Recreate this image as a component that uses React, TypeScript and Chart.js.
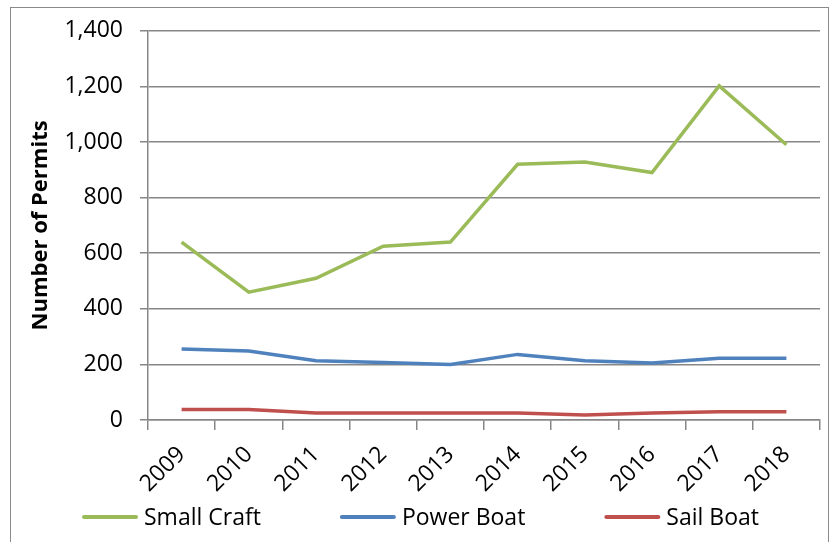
import React, { useEffect, useRef } from "react";
import { Chart, registerables } from "chart.js";

Chart.register(...registerables);

const categories = ["2009", "2010", "2011", "2012", "2013", "2014", "2015", "2016", "2017", "2018"];
const smallCraft = [640, 460, 510, 625, 640, 920, 928, 890, 1202, 990];
const powerBoat = [255, 248, 213, 207, 200, 236, 213, 205, 222, 222];
const sailBoat = [38, 38, 25, 25, 25, 25, 18, 25, 30, 30];
const seriesNames = ["Small Craft", "Power Boat", "Sail Boat"];
const seriesColors = ["#9BBB59", "#4F81BD", "#C0504D"];
const yTickStep = 200;
const yMax = 1400;

const FONT = "'Open Sans', 'Noto Sans', sans-serif";
const GRID = "#878787";
const FS = 23;

const bottomLegend = {
  id: "bottomLegend",
  afterDraw(chart: any) {
    const ctx = chart.ctx;
    const lineLen = 54;
    const gap = 7;
    const spacing = 80;
    const y = 517;
    ctx.save();
    ctx.font = `${FS}px ${FONT}`;
    ctx.textBaseline = "middle";
    ctx.textAlign = "left";
    const items = chart.data.datasets.map((d: any) => ({
      text: d.label,
      color: d.borderColor,
      w: lineLen + gap + ctx.measureText(d.label).width,
    }));
    const total = items.reduce((s: number, it: any) => s + it.w, 0) + spacing * (items.length - 1);
    let x = 421 - total / 2;
    items.forEach((it: any) => {
      ctx.strokeStyle = it.color;
      ctx.lineWidth = 4;
      ctx.lineCap = "round";
      ctx.beginPath();
      ctx.moveTo(x + 1, y);
      ctx.lineTo(x + lineLen - 1, y);
      ctx.stroke();
      ctx.fillStyle = "#000";
      ctx.fillText(it.text, x + lineLen + gap, y + 1);
      x += it.w + spacing;
    });
    ctx.restore();
  },
};

export default function App() {
  const ref = useRef<HTMLCanvasElement | null>(null);
  useEffect(() => {
    const ctx = ref.current!.getContext("2d")!;
    const values = [smallCraft, powerBoat, sailBoat];
    const chart = new Chart(ctx, {
      type: "line",
      data: {
        labels: categories,
        datasets: values.map((v, i) => ({
          label: seriesNames[i],
          data: v,
          borderColor: seriesColors[i],
          backgroundColor: seriesColors[i],
          borderWidth: 3.5,
          pointRadius: 0,
          tension: 0,
          fill: false,
        })),
      },
      options: {
        animation: false,
        responsive: false,
        layout: { padding: { left: 0, right: 11, top: 29, bottom: 0 } },
        plugins: {
          tooltip: { enabled: false },
          legend: { display: false },
        },
        scales: {
          x: {
            offset: true,
            grid: {
              offset: true,
              drawOnChartArea: false,
              drawTicks: true,
              tickLength: 10,
              color: GRID,
              lineWidth: 1.5,
            },
            border: { color: GRID, width: 1.5 },
            ticks: {
              color: "#000",
              font: { family: FONT, size: FS },
              minRotation: 45,
              maxRotation: 45,
              padding: 11,
              autoSkip: false,
            },
            afterFit: (axis: any) => {
              axis.height = 122;
            },
          },
          y: {
            min: 0,
            max: yMax,
            grid: {
              color: GRID,
              lineWidth: 1.5,
              tickLength: 8,
              drawTicks: true,
            },
            border: { color: GRID, width: 1.5 },
            ticks: {
              stepSize: yTickStep,
              color: "#000",
              font: { family: FONT, size: FS },
              padding: 17,
              callback: (v: any) => Number(v).toLocaleString("en-US"),
            },
            title: {
              display: true,
              text: "Number of Permits",
              color: "#000",
              font: { family: FONT, size: 22, weight: "bold" },
              padding: { top: 28, bottom: 0 },
            },
            afterFit: (axis: any) => {
              axis.width = 148;
            },
          },
        },
      },
      plugins: [bottomLegend],
    });
    return () => chart.destroy();
  }, []);
  return (
    <div style={{ position: "fixed", left: 0, top: 0, width: 831, height: 542, background: "#fff", overflow: "hidden" }}>
      <canvas ref={ref} width={831} height={542} style={{ position: "absolute", left: 0, top: 0 }} />
      <div
        style={{
          position: "absolute",
          left: 10,
          top: 7,
          width: 817,
          height: 560,
          border: "1.5px solid #8a8a8a",
          pointerEvents: "none",
        }}
      />
    </div>
  );
}
